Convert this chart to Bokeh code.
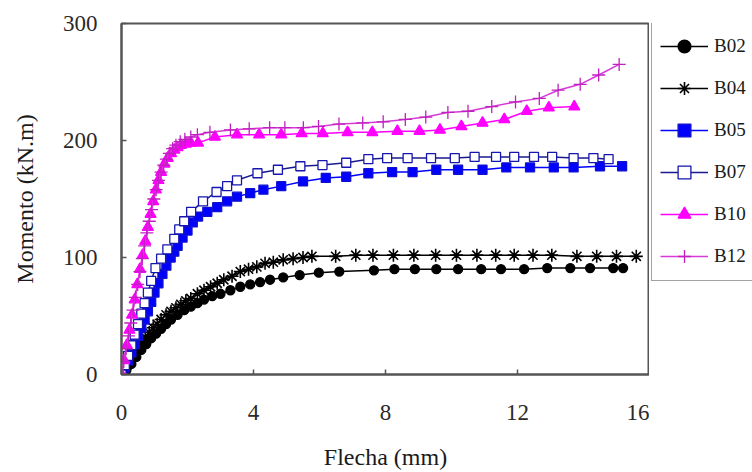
from bokeh.plotting import figure
from bokeh.models import Range1d, Legend, LegendItem, FixedTicker
from bokeh.layouts import row
from bokeh.embed import file_html
from bokeh.resources import INLINE

# ---- data ----
b02_x = [0, 0.15, 0.3, 0.45, 0.6, 0.75, 0.9, 1.05, 1.2, 1.35, 1.5, 1.7, 1.9, 2.1, 2.3, 2.5, 2.75, 3.0, 3.3, 3.6,
         3.9, 4.2, 4.5, 4.9, 5.4, 5.98, 6.6, 7.65, 8.27, 8.89, 9.54, 10.2, 10.9, 11.5, 12.2, 12.9, 13.6, 14.2, 14.9, 15.2]
b02_y = [0, 4, 9, 15, 21, 26, 31, 35, 39, 43, 47, 51, 55, 58, 61, 64, 67, 69, 72, 75,
         77, 79, 81, 83, 85, 87, 88, 89, 90, 90, 90, 90, 90, 90, 90, 91, 91, 91, 91, 91]

b04_x = [0, 0.12, 0.24, 0.36, 0.48, 0.6, 0.72, 0.84, 0.96, 1.08, 1.2, 1.35, 1.5, 1.65, 1.8, 1.95, 2.1, 2.3, 2.5, 2.7,
         2.9, 3.1, 3.35, 3.6, 3.85, 4.1, 4.35, 4.6, 4.9, 5.2, 5.5, 5.77, 6.49, 7.1, 7.62, 8.24, 8.86, 9.52, 10.15,
         10.77, 11.34, 11.9, 12.47, 13.04, 13.8, 14.4, 15.0, 15.6]
b04_y = [0, 5, 11, 17, 23, 28, 32, 36, 40, 43, 47, 51, 54, 57, 60, 63, 65, 69, 72, 75,
         78, 81, 84, 88, 90, 92, 95, 96, 98, 99, 100, 101, 101, 102, 102, 102, 102, 102, 102,
         102, 102, 102, 102, 102, 101, 101, 101, 101]

b05_x = [0, 0.1, 0.2, 0.3, 0.4, 0.5, 0.6, 0.7, 0.8, 0.9, 1.0, 1.12, 1.24, 1.36, 1.49, 1.6, 1.7, 1.85, 2.0, 2.16,
         2.32, 2.6, 2.9, 3.2, 3.5, 3.9, 4.3, 4.84, 5.5, 6.19, 6.81, 7.48, 8.2, 8.82, 9.54, 10.2, 10.94, 11.66,
         12.38, 13.1, 13.7, 14.5, 15.17]
b05_y = [0, 6, 12, 19, 26, 33, 40, 47, 54, 62, 70, 78, 86, 93, 100, 105, 110, 117, 123, 130,
         135, 139, 143, 148, 152, 155, 158, 161, 165, 168, 169, 172, 173, 173, 175, 175, 175, 177,
         177, 177, 177, 178, 178]

b07_x = [0, 0.1, 0.2, 0.3, 0.4, 0.5, 0.6, 0.7, 0.8, 0.9, 1.03, 1.2, 1.39, 1.6, 1.75, 1.9, 2.11, 2.47, 2.88, 3.2,
         3.5, 4.12, 4.74, 5.42, 6.09, 6.81, 7.48, 8.05, 8.67, 9.38, 10.1, 10.7, 11.35, 11.9, 12.5, 13.05, 13.7,
         14.3, 14.76]
b07_y = [0, 8, 16, 25, 34, 43, 52, 61, 70, 80, 91, 99, 107, 116, 124, 131, 139, 148, 156, 161,
         166, 172, 175, 178, 179, 181, 184, 185, 185, 185, 185, 186, 186, 186, 186, 186, 185,
         185, 184]

b10_x = [0, 0.08, 0.16, 0.24, 0.32, 0.4, 0.48, 0.56, 0.64, 0.72, 0.8, 0.88, 0.96, 1.04, 1.12, 1.2, 1.3, 1.4, 1.5,
         1.6, 1.7, 1.8, 1.95, 2.1, 2.32, 2.83, 3.5, 4.17, 4.84, 5.46, 6.1, 6.85, 7.6, 8.36, 9.03, 9.65, 10.3,
         10.94, 11.6, 12.28, 12.95, 13.72]
b10_y = [0, 12, 25, 38, 51, 64, 77, 90, 102, 114, 126, 137, 148, 158, 166, 173, 180, 185, 189,
         192, 194, 196, 197, 198, 198, 203, 205, 205, 205, 206, 206, 207, 207, 208, 208, 209, 212,
         215, 218, 225, 228, 229]

b12_x = [0, 0.07, 0.14, 0.21, 0.28, 0.35, 0.42, 0.49, 0.56, 0.63, 0.7, 0.77, 0.84, 0.91, 0.98, 1.05, 1.12, 1.2,
         1.28, 1.36, 1.45, 1.55, 1.65, 1.78, 1.92, 2.1, 2.3, 2.68, 3.3, 3.87, 4.49, 4.95, 5.51, 5.97, 6.59, 7.31,
         7.93, 8.6, 9.22, 9.89, 10.5, 11.22, 11.94, 12.66, 13.23, 13.9, 14.46, 15.08]
b12_y = [0, 11, 22, 33, 44, 55, 66, 77, 88, 99, 110, 121, 131, 141, 150, 158, 166, 173,
         179, 184, 189, 193, 196, 199, 201, 203, 205, 207, 209, 210, 211, 211, 211, 212, 214, 215,
         216, 218, 220, 224, 225, 229, 233, 236, 243, 248, 256, 265]

labels = ["B02", "B04", "B05", "B07", "B10", "B12"]
x_ticks = [0, 4, 8, 12, 16]
y_ticks = [0, 100, 200, 300]

FONT = "Liberation Serif"

p = figure(width=649, height=472, output_backend="svg", toolbar_location=None,
           x_range=Range1d(0, 16), y_range=Range1d(0, 300),
           min_border_left=121, min_border_right=0, min_border_top=23, min_border_bottom=98)
p.background_fill_color = "white"
p.border_fill_color = "white"
p.outline_line_color = "#555555"
p.outline_line_width = 2
p.grid.visible = False

for ax in (p.xaxis[0], p.yaxis[0]):
    ax.major_label_text_font = FONT
    ax.major_label_text_font_size = "23px"
    ax.major_label_text_color = "#2a2a2a"
    ax.axis_label_text_font = FONT
    ax.axis_label_text_font_size = "24px"
    ax.axis_label_text_font_style = "normal"
    ax.axis_label_text_color = "#1a1a1a"
    ax.axis_line_color = "#555555"
    ax.axis_line_width = 2
    ax.major_tick_line_color = "#555555"
    ax.major_tick_line_width = 1.5
    ax.major_tick_in = 5
    ax.major_tick_out = 0
    ax.minor_tick_line_color = None

p.xaxis.ticker = FixedTicker(ticks=x_ticks)
p.yaxis.ticker = FixedTicker(ticks=y_ticks)
p.xaxis.axis_label = "Flecha (mm)"
p.yaxis.axis_label = "Momento (kN.m)"
p.xaxis.major_label_standoff = 30
p.xaxis.axis_label_standoff = 21
p.yaxis.major_label_standoff = 24
p.yaxis.axis_label_standoff = 22

series = [
    (b02_x, b02_y, "#000000", "circle", "#000000", "#000000", 9, 1.3),
    (b04_x, b04_y, "#000000", "asterisk", "#000000", "#000000", 13, 1.6),
    (b05_x, b05_y, "#0000ff", "square", "#0000ff", "#1010d0", 9, 1.3),
    (b07_x, b07_y, "#1a1a90", "square", "white", "#1515b0", 9, 1.3),
    (b10_x, b10_y, "#ff00ff", "triangle", "#ff00ff", "#ff00ff", 11, 1.3),
    (b12_x, b12_y, "#d83ad8", "cross", None, "#c020c0", 13, 1.3),
]

# separate panel holding the legend (same glyph styles, data kept out of view)
pl = figure(width=103, height=472, output_backend="svg", toolbar_location=None,
            x_range=Range1d(1000, 1001), y_range=Range1d(1000, 1001),
            x_axis_type=None, y_axis_type=None,
            min_border_left=0, min_border_right=0, min_border_top=0, min_border_bottom=0)
pl.grid.visible = False
pl.outline_line_color = None
pl.background_fill_color = "white"
pl.border_fill_color = "white"

items = []
for (xs, ys, lc, mk, fc, mlc, sz, mw), lab in zip(series, labels):
    p.line(xs, ys, line_color=lc, line_width=1.5)
    p.scatter(xs, ys, marker=mk, size=sz, fill_color=fc, line_color=mlc, line_width=mw)
    lr = pl.line(xs, ys, line_color=lc, line_width=1.5)
    sr = pl.scatter(xs, ys, marker=mk, size=sz, fill_color=fc, line_color=mlc, line_width=mw)
    items.append(LegendItem(label=lab, renderers=[lr, sr]))

legend = Legend(items=items, location=(2, 93), margin=0,
                padding=8, spacing=10, glyph_width=48, glyph_height=32,
                label_standoff=6, label_text_font=FONT, label_text_font_size="19px",
                label_text_color="#1a1a1a",
                border_line_color="#444444", border_line_width=1.5,
                background_fill_color="white", background_fill_alpha=1.0)
pl.add_layout(legend, "center")

layout = row(p, pl)
open("out.html", "w").write(file_html(layout, INLINE))
